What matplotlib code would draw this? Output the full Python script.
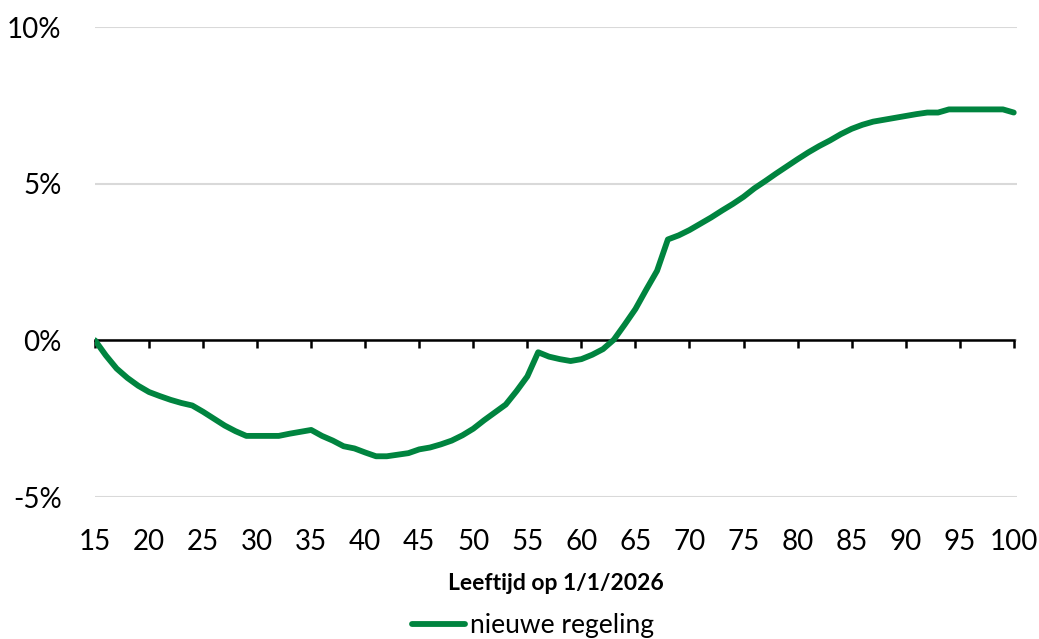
import matplotlib.pyplot as plt
import numpy as np
from matplotlib.ticker import FuncFormatter

############################################
## Data
############################################

ages = list(range(15, 101))
nieuwe_regeling = [
    0.00, -0.48, -0.90, -1.20, -1.45, -1.65, -1.78, -1.90, -2.00, -2.08,   # 15-24
    -2.28, -2.50, -2.72, -2.90, -3.05, -3.05, -3.05, -3.05, -2.98, -2.92,  # 25-34
    -2.86, -3.05, -3.20, -3.38, -3.45, -3.58, -3.70, -3.70, -3.65, -3.60,  # 35-44
    -3.48, -3.42, -3.32, -3.20, -3.03, -2.82, -2.55, -2.30, -2.05, -1.62,  # 45-54
    -1.15, -0.38, -0.52, -0.60, -0.66, -0.60, -0.46, -0.28, 0.02, 0.50,    # 55-64
    1.00, 1.62, 2.22, 3.22, 3.35, 3.52, 3.72, 3.92, 4.14, 4.35,            # 65-74
    4.58, 4.85, 5.08, 5.32, 5.55, 5.78, 6.00, 6.20, 6.38, 6.58,            # 75-84
    6.75, 6.88, 6.98, 7.04, 7.10, 7.16, 7.22, 7.27, 7.27, 7.37,            # 85-94
    7.37, 7.37, 7.37, 7.37, 7.37, 7.27,                                    # 95-100
]
x_ticks = list(range(15, 101, 5))
y_ticks = [-5, 0, 5, 10]
series_label = "nieuwe regeling"
x_label = "Leeftijd op 1/1/2026"

green = "#00843F"
grid_grey = "#D9D9D9"
plt.rcParams['font.family'] = ['Lato', 'DejaVu Sans']

############################################
## Plot
############################################

fig = plt.figure(figsize=(10.39, 6.39), dpi=100)
ax = fig.add_axes([95 / 1039, 1 - 497 / 639, (1017 - 95) / 1039, (497 - 27) / 639])

ax.plot(ages, nieuwe_regeling, color=green, linewidth=4.2, solid_capstyle='round',
        label=series_label, zorder=3)

ax.set_xlim(15, 100.3)
ax.set_ylim(-5, 10)

# horizontal grid
ax.set_yticks(y_ticks)
ax.yaxis.set_major_formatter(FuncFormatter(lambda v, p: "%d%%" % v))
ax.grid(axis='y', color=grid_grey, linewidth=1.5)
ax.set_axisbelow(True)
ax.tick_params(axis='y', length=0, pad=24, labelsize=20)

for side in ['top', 'right', 'left']:
    ax.spines[side].set_visible(False)

# x axis line at 0 with tick marks pointing down
ax.spines['bottom'].set_position(('data', 0))
ax.spines['bottom'].set_linewidth(1.8)
ax.spines['bottom'].set_zorder(2)
ax.spines['bottom'].set_bounds(15, 100)
ax.set_xticks(x_ticks)
ax.tick_params(axis='x', direction='out', length=6, width=1.8, labelbottom=False)

# tick labels at the bottom of the plot
sec = ax.secondary_xaxis('bottom')
sec.set_xticks(x_ticks)
sec.tick_params(length=0, pad=23, labelsize=20)
sec.spines['bottom'].set_visible(False)
sec.set_xlabel(x_label, fontsize=16.5, fontweight='bold', labelpad=13)

fig.legend(loc='center', bbox_to_anchor=(533 / 1039, 1 - 626 / 639), frameon=False,
           fontsize=19, handlelength=2.0, handletextpad=0.2, borderpad=0)

plt.savefig('out.png', dpi=100)
plt.close()
